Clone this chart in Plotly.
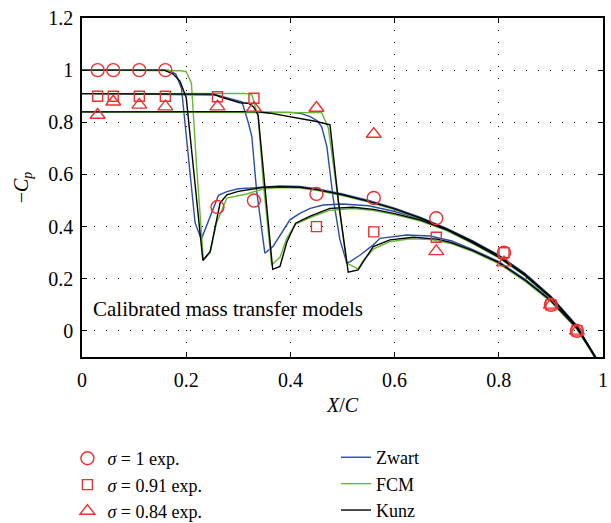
import plotly.graph_objects as go

# ---------------- experimental data ----------------
x_exp = [0.03, 0.06, 0.11, 0.16, 0.26, 0.33, 0.45, 0.56, 0.68, 0.81, 0.90, 0.95]
cp_exp_s100 = [1.0, 1.0, 1.0, 1.0, 0.475, 0.50, 0.525, 0.51, 0.432, 0.30, 0.10, 0.0]
cp_exp_s091 = [0.90, 0.90, 0.90, 0.90, 0.898, 0.892, 0.40, 0.38, 0.359, 0.30, 0.10, 0.0]
cp_exp_s084 = [0.828, 0.879, 0.867, 0.86, 0.86, 0.855, 0.855, 0.755, 0.305, 0.262, 0.10, 0.0]

# ---------------- shared wetted tails ----------------
tail_up_x = [0.38, 0.418, 0.45, 0.50, 0.55, 0.60, 0.65, 0.70, 0.75, 0.80, 0.85, 0.90, 0.95, 0.985, 0.995]
tail_up_y = [0.553, 0.551, 0.542, 0.522, 0.497, 0.468, 0.432, 0.39, 0.342, 0.288, 0.218, 0.13, 0.017, -0.10, -0.14]

# sigma = 1 models
zw100_x = [0.0, 0.166, 0.18, 0.191, 0.217, 0.229, 0.262, 0.278, 0.30, 0.348] + tail_up_x
zw100_y = [1.0, 1.0, 0.985, 0.93, 0.415, 0.352, 0.52, 0.534, 0.545, 0.553] + [v + 0.003 for v in tail_up_y]
fc100_x = [0.0, 0.19, 0.20, 0.21, 0.22, 0.233, 0.246, 0.258, 0.278, 0.316, 0.348] + tail_up_x
fc100_y = [1.0, 0.998, 0.994, 0.95, 0.63, 0.272, 0.30, 0.413, 0.509, 0.525, 0.545] + [v - 0.003 for v in tail_up_y]
ku100_x = [0.0, 0.158, 0.175, 0.188, 0.200, 0.232, 0.246, 0.265, 0.278, 0.30, 0.348] + tail_up_x
ku100_y = [1.0, 1.0, 0.985, 0.958, 0.895, 0.27, 0.305, 0.49, 0.522, 0.535, 0.551] + tail_up_y

# sigma = 0.91 models
tail_mid_x = [0.75, 0.80, 0.85, 0.90, 0.95, 0.985, 0.995]
tail_mid_y = [0.338, 0.283, 0.214, 0.127, 0.014, -0.10, -0.14]
zw091_x = [0.0, 0.258, 0.29, 0.307, 0.319, 0.326, 0.335, 0.351, 0.367, 0.38, 0.399, 0.418, 0.438,
           0.463, 0.50, 0.55, 0.60, 0.65, 0.70] + tail_mid_x
zw091_y = [0.91, 0.905, 0.888, 0.879, 0.80, 0.745, 0.54, 0.298, 0.325, 0.368, 0.426, 0.451, 0.47,
           0.483, 0.487, 0.48, 0.458, 0.428, 0.39] + tail_mid_y
fc091_x = [0.0, 0.313, 0.326, 0.338, 0.348, 0.364, 0.38, 0.393, 0.41, 0.438, 0.476, 0.52, 0.56,
           0.60, 0.65, 0.70] + tail_mid_x
fc091_y = [0.91, 0.911, 0.905, 0.822, 0.566, 0.253, 0.282, 0.355, 0.41, 0.435, 0.463, 0.469, 0.462,
           0.446, 0.421, 0.385] + [v - 0.003 for v in tail_mid_y]
ku091_x = [0.0, 0.252, 0.265, 0.303, 0.319, 0.329, 0.338, 0.351, 0.366, 0.38, 0.393, 0.41, 0.438,
           0.476, 0.52, 0.56, 0.60, 0.65, 0.70] + tail_mid_x
ku091_y = [0.91, 0.908, 0.898, 0.875, 0.873, 0.86, 0.828, 0.54, 0.236, 0.247, 0.34, 0.413, 0.44,
           0.47, 0.474, 0.466, 0.45, 0.425, 0.388] + tail_mid_y

# sigma = 0.84 models
tail_low_x = [0.75, 0.80, 0.85, 0.90, 0.95, 0.985, 0.995]
tail_low_y = [0.308, 0.262, 0.195, 0.116, 0.01, -0.10, -0.14]
zw084_x = [0.0, 0.40, 0.418, 0.438, 0.452, 0.46, 0.47, 0.482, 0.495, 0.508, 0.514, 0.534, 0.559,
           0.572, 0.623, 0.668, 0.71] + tail_low_x
zw084_y = [0.84, 0.838, 0.835, 0.822, 0.805, 0.783, 0.707, 0.51, 0.35, 0.262, 0.265, 0.291, 0.33,
           0.355, 0.368, 0.364, 0.345] + [v + 0.004 for v in tail_low_y]
fc084_x = [0.0, 0.46, 0.473, 0.492, 0.508, 0.53, 0.54, 0.56, 0.59, 0.63, 0.67, 0.71] + tail_low_x
fc084_y = [0.84, 0.837, 0.777, 0.50, 0.26, 0.238, 0.27, 0.315, 0.342, 0.353, 0.35, 0.334] + [v - 0.004 for v in tail_low_y]
ku084_x = [0.0, 0.335, 0.361, 0.412, 0.45, 0.476, 0.492, 0.511, 0.53, 0.54, 0.559, 0.591, 0.636,
           0.681, 0.71] + tail_low_x
ku084_y = [0.84, 0.841, 0.835, 0.816, 0.803, 0.79, 0.50, 0.225, 0.234, 0.266, 0.323, 0.349, 0.359,
           0.352, 0.338] + tail_low_y

FONT = "Liberation Serif"
RED = "#f03030"
BLUE = "#2a4ea8"
GREEN = "#66b832"
BLACK = "#000000"

fig = go.Figure()

model_sets = [
    (BLUE, "Zwart", [(zw100_x, zw100_y), (zw091_x, zw091_y), (zw084_x, zw084_y)]),
    (GREEN, "FCM", [(fc100_x, fc100_y), (fc091_x, fc091_y), (fc084_x, fc084_y)]),
    (BLACK, "Kunz", [(ku100_x, ku100_y), (ku091_x, ku091_y), (ku084_x, ku084_y)]),
]
for color, name, curves in model_sets:
    for i, (xs, ys) in enumerate(curves):
        fig.add_trace(go.Scatter(
            x=xs, y=ys, mode="lines", name=name,
            line=dict(color=color, width=1.4),
            showlegend=(i == 0), legendgroup=name, legend="legend2",
        ))

exp_sets = [
    ("<i>σ</i> = 1 exp.", cp_exp_s100, "circle-open", 13),
    ("<i>σ</i> = 0.91 exp.", cp_exp_s091, "square-open", 10),
    ("<i>σ</i> = 0.84 exp.", cp_exp_s084, "triangle-up-open", 13),
]
for name, ys, sym, sz in exp_sets:
    fig.add_trace(go.Scatter(
        x=x_exp, y=ys, mode="markers", name=name,
        marker=dict(symbol=sym, size=sz, color=RED, line=dict(color=RED, width=1.4)),
        legend="legend", cliponaxis=False,
    ))

axis_common = dict(
    showline=True, linecolor="black", linewidth=1.5, mirror="ticks",
    ticks="inside", ticklen=5, tickwidth=1.2, tickcolor="black",
    showgrid=True, gridcolor="black", gridwidth=1, griddash="1px,11px",
    zeroline=False, tickfont=dict(family=FONT, size=20, color="black"),
)

fig.update_layout(
    width=611, height=523, autosize=False,
    margin=dict(l=82, r=8, t=18, b=166, autoexpand=False),
    paper_bgcolor="white", plot_bgcolor="white",
    font=dict(family=FONT, size=20, color="black"),
    xaxis=dict(range=[0, 1], tick0=0, dtick=0.2, ticklabelstandoff=4,
               title=dict(text="<i>X</i>/<i>C</i>", font=dict(family=FONT, size=20), standoff=8),
               **axis_common),
    yaxis=dict(range=[-0.1, 1.2], tick0=0, dtick=0.2, ticklabelstandoff=3,
               title=dict(text="−<i>C<sub>p</sub></i>", font=dict(family=FONT, size=20), standoff=14),
               **axis_common),
    legend=dict(x=-0.028, y=-0.245, xanchor="left", yanchor="top",
                bgcolor="rgba(0,0,0,0)", font=dict(family=FONT, size=18),
                tracegroupgap=0, itemclick=False),
    legend2=dict(x=0.4875, y=-0.242, xanchor="left", yanchor="top",
                 bgcolor="rgba(0,0,0,0)", font=dict(family=FONT, size=18),
                 tracegroupgap=0, itemclick=False),
    annotations=[dict(x=0.018, y=0.085, xref="x", yref="y", text="Calibrated mass transfer models",
                      showarrow=False, xanchor="left", yanchor="middle",
                      font=dict(family=FONT, size=21, color="black"))],
)

fig.write_html("out.html")
